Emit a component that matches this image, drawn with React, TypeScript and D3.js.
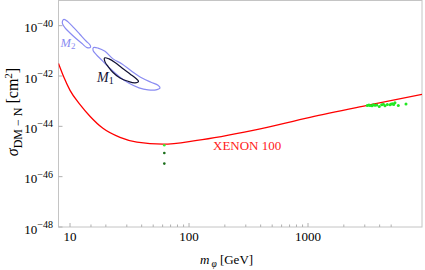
import React from "react";
import * as d3 from "d3";

// XENON100 exclusion curve: mass (GeV) and log10 sigma (cm^2)
const xenonMass = [8.0, 8.9, 10, 12.1, 14.7, 18.9, 26.3, 36.5, 60.4, 116.6, 345, 1040, 3130, 9080];
const xenonLogSigma = [-41.5, -42.06, -42.57, -43.13, -43.6, -44.08, -44.44, -44.63, -44.71, -44.56, -44.16, -43.64, -43.17, -42.73];

// M2 region contour [mass, log10 sigma]
const m2Contour: [number, number][] = [
  [8.91, -39.75], [9.62, -39.85], [10.8, -40.09], [12.13, -40.35], [13.63, -40.61], [14.73, -40.77],
  [14.87, -40.85], [13.9, -40.87], [12.61, -40.71], [11.23, -40.51], [10.0, -40.29], [9.08, -40.09],
  [8.65, -39.93], [8.65, -39.81],
];
// M1 outer contour
const m1Outer: [number, number][] = [
  [15.76, -40.87], [17.19, -40.89], [19.68, -41.02], [22.98, -41.32], [27.35, -41.52], [33.19, -41.82],
  [40.27, -42.08], [47.97, -42.25], [54.9, -42.37], [57.05, -42.47], [52.8, -42.55], [45.24, -42.55],
  [38.0, -42.47], [31.33, -42.29], [25.82, -42.02], [21.69, -41.7], [18.57, -41.38], [16.54, -41.14],
  [15.61, -40.98],
];
// M1 inner contour
const m1Inner: [number, number][] = [
  [19.49, -41.28], [21.27, -41.32], [23.88, -41.46], [27.35, -41.68], [31.94, -41.92], [35.85, -42.1],
  [37.63, -42.21], [35.17, -42.27], [30.73, -42.21], [26.32, -42.08], [22.98, -41.86], [20.86, -41.62],
  [19.68, -41.44],
];
// Higgs-resonance points
const resMass = [62, 62, 62];
const resLogSigma = [-44.75, -45.06, -45.48];
const resColor = ["#33ee33", "#1b6e1b", "#1b6e1b"];
// Heavy-mass cluster
const heavyMass = [3150, 3250, 3320, 3450, 3540, 3650, 3780, 3970, 4160, 4300, 4440, 4640, 4890, 5000, 5150, 5250, 5380, 5740, 6660];
const heavyLogSigma = [-43.17, -43.15, -43.17, -43.18, -43.14, -43.16, -43.15, -43.21, -43.14, -43.12, -43.18, -43.13, -43.14, -43.11, -43.1, -43.13, -43.06, -43.17, -43.11];

const xMajor = [10, 100, 1000];
const xMinor = [15, 20, 30, 40, 50, 60, 70, 80, 90, 200, 300, 400, 500, 600, 700, 800, 900, 2000, 3000, 4000, 5000];
const yMajorExp = [-48, -46, -44, -42, -40];

const W = 425, H = 270;
const L = 58.5, R = 422, T = 0.5, B = 227;

export default function App() {
  const x = d3.scaleLog().domain([8, 9080]).range([L, R]);
  const y = d3.scaleLog().domain([1e-48, 1e-39]).range([B, T]);
  const px = (m: number) => x(m);
  const py = (e: number) => y(Math.pow(10, e));

  const xenonPts: [number, number][] = xenonMass.map((m, i) => [px(m), py(xenonLogSigma[i])]);
  const xenonPath = d3.line().curve(d3.curveMonotoneX)(xenonPts) || "";
  const closed = d3.line().curve(d3.curveCatmullRomClosed.alpha(0.5));
  const contourPath = (c: [number, number][]) => closed(c.map(([m, e]) => [px(m), py(e)] as [number, number])) || "";

  const blue = "#8a8cf2";
  const font = "'Liberation Serif', 'DejaVu Serif', serif";

  return (
    <svg width={W} height={H} style={{ position: "fixed", left: 0, top: 0, background: "#fff" }} fontFamily={font}>
      <defs>
        <clipPath id="plot">
          <rect x={L} y={T} width={R - L} height={B - T} />
        </clipPath>
      </defs>
      {/* frame */}
      <rect x={L} y={T} width={R - L} height={B - T} fill="none" stroke="#c4c4c4" strokeWidth={1} />
      {/* x ticks */}
      {xMajor.map((v) => (
        <line key={"xM" + v} x1={px(v)} x2={px(v)} y1={B} y2={B - 4} stroke="#b0b0b0" />
      ))}
      {xMinor.map((v) => (
        <line key={"xm" + v} x1={px(v)} x2={px(v)} y1={B} y2={B - 2.5} stroke="#b0b0b0" />
      ))}
      {xMajor.map((v) => (
        <text key={"xl" + v} x={px(v)} y={241} textAnchor="middle" fontSize={13}>
          {v}
        </text>
      ))}
      {/* y ticks */}
      {yMajorExp.map((e) => (
        <line key={"yM" + e} x1={L} x2={L + 4} y1={py(e)} y2={py(e)} stroke="#b0b0b0" />
      ))}
      {yMajorExp.map((e) => (
        <text key={"yl" + e} x={53} y={py(e) + 6.5} textAnchor="end" fontSize={13}>
          10
          <tspan dy={-5.5} fontSize={10}>
            {"\u2212" + Math.abs(e)}
          </tspan>
        </text>
      ))}
      <g clipPath="url(#plot)">
        <path d={xenonPath} fill="none" stroke="#ff0000" strokeWidth={1.3} />
        <path d={contourPath(m2Contour)} fill="none" stroke={blue} strokeWidth={1.2} />
        <path d={contourPath(m1Outer)} fill="none" stroke={blue} strokeWidth={1.2} />
        <path d={contourPath(m1Inner)} fill="none" stroke="#111133" strokeWidth={1.2} />
        {resMass.map((m, i) => (
          <circle key={"r" + i} cx={px(m)} cy={py(resLogSigma[i])} r={1.3} fill={resColor[i]} />
        ))}
        {heavyMass.map((m, i) => (
          <circle key={"h" + i} cx={px(m)} cy={py(heavyLogSigma[i])} r={1.5} fill="#22e822" />
        ))}
      </g>
      {/* labels */}
      <text x={213} y={150} fontSize={13} fill="#ff2020">
        XENON 100
      </text>
      <text x={60.5} y={46.7} fontSize={12.5} fill={blue} fontStyle="italic">
        M
        <tspan dy={2.5} fontSize={9} fontStyle="normal">2</tspan>
      </text>
      <text x={97} y={81.5} fontSize={14} fill="#111133" fontStyle="italic">
        M
        <tspan dy={2} fontSize={10} fontStyle="normal">1</tspan>
      </text>
      {/* axis titles */}
      <text x={200} y={264} fontSize={13}>
        <tspan fontStyle="italic">m</tspan>
        <tspan dx={2} dy={2.5} fontSize={9.5} fontStyle="italic">φ</tspan>
        <tspan dy={-2.5}> [GeV]</tspan>
      </text>
      <text transform="translate(18,112) rotate(-90)" textAnchor="middle" fontSize={16}>
        <tspan fontStyle="italic">σ</tspan>
        <tspan dy={3.5} fontSize={12}>DM − N</tspan>
        <tspan dy={-3.5}> [cm</tspan>
        <tspan dy={-6} fontSize={11}>2</tspan>
        <tspan dy={6}>]</tspan>
      </text>
    </svg>
  );
}
